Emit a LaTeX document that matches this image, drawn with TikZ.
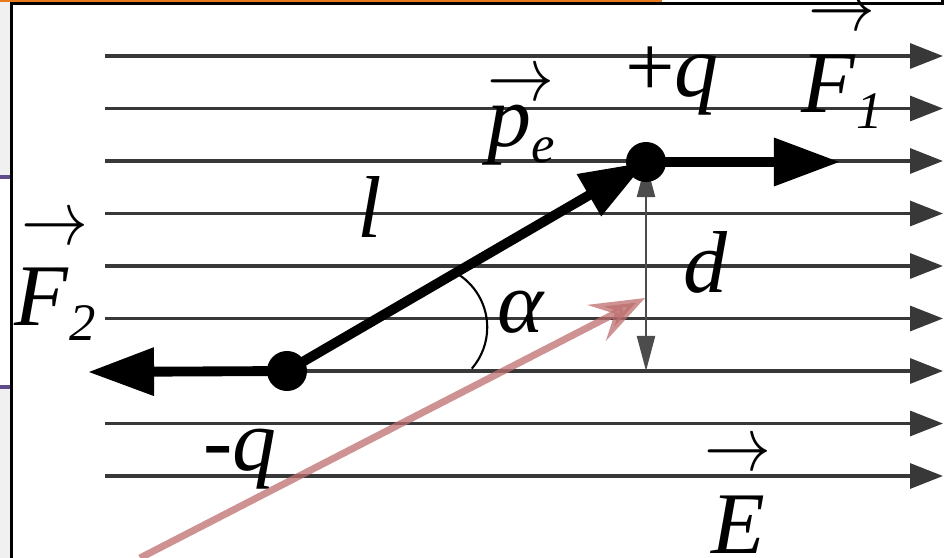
\documentclass[tikz,border=0pt]{standalone}
\usepackage{graphicx}
\usepackage{fontspec}
\setmainfont{Liberation Serif}
\usetikzlibrary{positioning,arrows.meta,calc}
\newcommand{\vecover}[2][7pt]{\vbox{\offinterlineskip\halign{\hfil##\hfil\cr\resizebox{19pt}{8pt}{$\rightarrow$}\cr\noalign{\kern#1}#2\cr}}}
\newcommand{\subtxt}[1]{\raisebox{-4.5pt}{\fontsize{15}{15}\selectfont\textit{#1}}}
\definecolor{slidegray}{RGB}{240,240,240}
\definecolor{slideorange}{RGB}{232,122,30}
\definecolor{slidepurple}{RGB}{95,75,140}
\definecolor{pointerpink}{RGB}{190,110,110}
\tikzset{
  fieldline/.style={-{Triangle[length=3.3mm, width=2.5mm]}, line width=0.9pt, black!78},
  dipolearrow/.style={-{Triangle[length=6.6mm, width=4.6mm]}, line width=2.8pt},
  forcearrow/.style={-{Triangle[length=6.6mm, width=4.6mm]}, line width=2.8pt},
  distarrow/.style={{Triangle[length=3.5mm, width=1.8mm]}-{Triangle[length=3.5mm, width=1.8mm]}, line width=0.6pt, black!70},
  chargedot/.style={circle, fill=black, minimum size=4mm, inner sep=0pt},
  pointerarrow/.style={-{Stealth[length=5.4mm, width=4mm, inset=2mm]}, line width=2pt, pointerpink, opacity=0.75},
  lab/.style={font=\fontsize{25}{30}\selectfont, inner sep=0pt, anchor=base}
}

\begin{document}
\begin{tikzpicture}[x=0.01cm, y=-0.01cm]
  \useasboundingbox (0,0) rectangle (946,558);
  % what is left of the slide
  \fill[slidegray] (0,0) rectangle (11,558);
  \fill[white] (0,177) rectangle (11,387);
  \draw[slidepurple, line width=1.2pt] (0,177) -- (11,177) (0,387) -- (11,387);
  \fill[slideorange] (0,0) rectangle (662,2.5);
  \draw[line width=0.7pt] (11.5,558) -- (11.5,3.5) -- (942.5,3.5) -- (942.5,0);

  % field lines
  \foreach \k in {0,...,8}
    \draw[fieldline] (105,{56+52.5*\k}) -- (943,{56+52.5*\k});

  \coordinate (neg) at (287,371);
  \coordinate (pos) at (646,162);
  \coordinate (f1tip) at (840,162);
  \coordinate (f2tip) at (88,372);
  \coordinate (dfoot) at (646,371);
  \coordinate (ptrstart) at (140,558);
  \coordinate (ptrtip) at (645,298);

  \draw[distarrow] (pos) -- (dfoot);
  \draw[dipolearrow] (neg) -- (pos);
  \draw[forcearrow] (pos) -- (f1tip);
  \draw[forcearrow] (neg) -- (f2tip);
  \draw[line width=0.6pt] ($(neg)!0.47!(pos)$) arc[start angle=-60, end angle=41, radius=63];

  \node[chargedot] (negdot) at (neg) {};
  \node[chargedot] (posdot) at (pos) {};

  % labels
  \node[lab] (qpos) at (672,97) {+\textit{q}};
  \node[lab] (qneg) at (240,470) {-\textit{q}};
  \node[lab] (F1) at (842,113) {\vecover[7pt]{\textit{F}\subtxt{1}}};
  \node[lab] (F2) at (55,325) {\vecover[6.5pt]{\textit{F}\subtxt{2}}};
  \node[lab] (pe) at (521,147) {\vecover[1.5pt]{\textit{p}\subtxt{e}}};
  \node[lab] (Elab) at (738,553) {\vecover{\textit{E}}};
  \node[lab] (llab) at (370,238) {\textit{l}};
  \node[lab] (dlab) at (706,293) {\textit{d}};
  \node[lab] (alpha) at (521,333) {\textit{α}};

  \draw[pointerarrow] (ptrstart) -- (ptrtip);
\end{tikzpicture}
\end{document}
